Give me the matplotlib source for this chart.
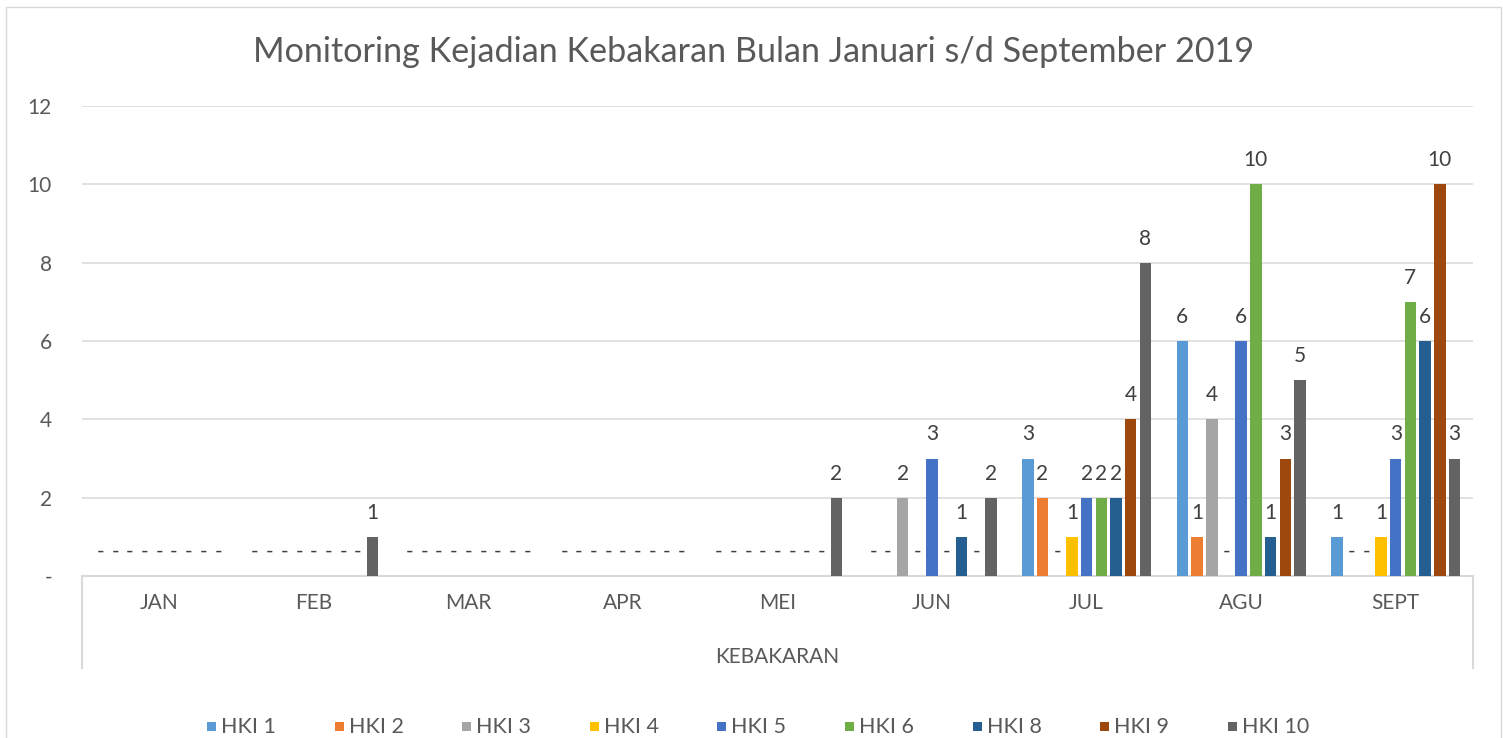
import matplotlib
matplotlib.use("Agg")
import matplotlib.pyplot as plt
import numpy as np
from matplotlib.patches import Rectangle
from matplotlib.lines import Line2D

months = ["JAN", "FEB", "MAR", "APR", "MEI", "JUN", "JUL", "AGU", "SEPT"]
series_names = ["HKI 1", "HKI 2", "HKI 3", "HKI 4", "HKI 5", "HKI 6", "HKI 8", "HKI 9", "HKI 10"]
hki1 = [0, 0, 0, 0, 0, 0, 3, 6, 1]
hki2 = [0, 0, 0, 0, 0, 0, 2, 1, 0]
hki3 = [0, 0, 0, 0, 0, 2, 0, 4, 0]
hki4 = [0, 0, 0, 0, 0, 0, 1, 0, 1]
hki5 = [0, 0, 0, 0, 0, 3, 2, 6, 3]
hki6 = [0, 0, 0, 0, 0, 0, 2, 10, 7]
hki8 = [0, 0, 0, 0, 0, 1, 2, 1, 6]
hki9 = [0, 0, 0, 0, 0, 0, 4, 3, 10]
hki10 = [0, 1, 0, 0, 2, 2, 8, 5, 3]
series_values = [hki1, hki2, hki3, hki4, hki5, hki6, hki8, hki9, hki10]
colors = ["#5B9BD5", "#ED7D31", "#A5A5A5", "#FFC000", "#4472C4",
          "#70AD47", "#255E91", "#9E480E", "#636363"]
yticks = [0, 2, 4, 6, 8, 10, 12]
ytick_labels = ["-", "2", "4", "6", "8", "10", "12"]
title = "Monitoring Kejadian Kebakaran Bulan Januari s/d September 2019"
group_label = "KEBAKARAN"

FONT = ["Lato", "DejaVu Sans"]
plt.rcParams["font.family"] = FONT

W, H = 1503, 738
fig = plt.figure(figsize=(W / 100, H / 100), dpi=100)

def fx(px):
    return px / W

def fy(py):
    return 1 - py / H

FS = 15

# outer chart border
fig.patches.append(Rectangle((fx(6), fy(745)), fx(1501) - fx(6), fy(7) - fy(745),
                             transform=fig.transFigure, fill=False,
                             edgecolor="#D9D9D9", linewidth=1.0))

L, R, T, B = 82, 1473, 106, 576
ax = fig.add_axes([fx(L), fy(B), fx(R) - fx(L), fy(T) - fy(B)])

n = len(series_names)
pitch = 0.0951
width = 0.0744
x = np.arange(len(months))
for j, (name, vals, c) in enumerate(zip(series_names, series_values, colors)):
    off = (j - (n - 1) / 2) * pitch
    bars = ax.bar(x + off, vals, width=width, color=c, label=name, zorder=3)
    for b, v in zip(bars, vals):
        ax.annotate("-" if v == 0 else str(v),
                    (b.get_x() + b.get_width() / 2, v),
                    xytext=(0, 17.3), textcoords="offset points",
                    ha="center", va="center", fontsize=FS, color="#404040")

ax.set_xlim(-0.5, len(months) - 0.5)
ax.set_ylim(0, 12)
ax.set_yticks(yticks)
ax.set_yticklabels(ytick_labels)
ax.tick_params(axis="y", length=0, pad=21.6, labelsize=FS, labelcolor="#595959")
ax.set_xticks(x)
ax.set_xticklabels(months)
ax.tick_params(axis="x", length=0, pad=12, labelsize=FS, labelcolor="#595959")
ax.grid(axis="y", color="#D9D9D9", linewidth=1.1, zorder=0)
for s in ax.spines.values():
    s.set_visible(False)
ax.axhline(0, color="#D9D9D9", linewidth=1.5, zorder=2, clip_on=False)

# multi-level category box
depth = -(668 - 576) / (576 - 106)
for xx in (0, 1):
    ax.add_line(Line2D([xx, xx], [0, depth], transform=ax.transAxes,
                       color="#D9D9D9", linewidth=1.5, clip_on=False))
ax.text(0.5, -(657 - 576) / (576 - 106), group_label, transform=ax.transAxes,
        ha="center", va="center", fontsize=FS, color="#595959")

# title, fit to reference width
t = fig.text(fx(754), fy(62), title, ha="center", va="baseline",
             fontsize=22, color="#595959")
fig.canvas.draw()
wpx = t.get_window_extent().width
t.set_fontsize(22 * 998 / wpx)

# legend
for k, (name, c) in enumerate(zip(series_names, colors)):
    x0 = 207 + k * 127.6
    fig.patches.append(Rectangle((fx(x0), fy(731)), fx(9), 9 / H,
                                 transform=fig.transFigure, facecolor=c,
                                 edgecolor="none"))
    fig.text(fx(x0 + 14), fy(727), name, ha="left", va="center",
             fontsize=FS + 0.5, color="#595959")

fig.savefig("out.png", dpi=100)
